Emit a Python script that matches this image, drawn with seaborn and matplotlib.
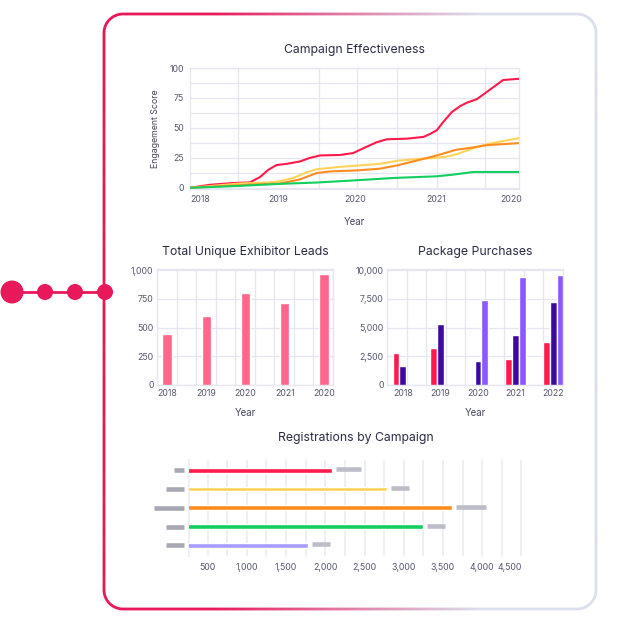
import numpy as np
import pandas as pd
import seaborn as sns
import matplotlib.pyplot as plt
import matplotlib.colors as mcolors
from matplotlib import transforms
from matplotlib.path import Path
from matplotlib.patches import Circle, PathPatch
from matplotlib.ticker import FuncFormatter

# --- Campaign Effectiveness (x = position along the time axis, % of width)
red_x = [0, 6, 13.2, 18.2, 21.3, 23.8, 26.3, 29.4, 33.4, 36.5, 39.5, 45.6,
         49.6, 52.7, 56.7, 59.8, 65.9, 71, 73, 75, 77, 79.5, 82, 84.1, 87.2,
         89.2, 92.2, 95.2, 100]
red_y = [0, 2.5, 4, 4.5, 9, 15, 19, 20, 22, 25, 27, 27.4,
         29, 33, 38, 40.5, 41, 42.5, 45, 48, 55, 63, 68, 71, 74,
         78, 84, 90, 91]
yellow_x = [0, 5.1, 15.2, 24, 27.4, 31.4, 35.5, 38.5, 45.6, 50.7, 57.8, 62.8,
            68.9, 75, 78, 81, 86.1, 90.2, 95.2, 100]
yellow_y = [0, 1.2, 3.6, 4.5, 5.5, 8.2, 13, 15.5, 17.5, 18.5, 20, 22.5,
            24, 25, 26, 28, 33, 36.4, 39, 41.5]
orange_x = [0, 15.2, 27.4, 33.4, 38.5, 42.6, 50.7, 57.8, 62.8, 68.9, 75,
            81, 86.1, 90.2, 100]
orange_y = [0, 2.2, 3.6, 7, 12.3, 13.7, 14.5, 16, 18.6, 22.7, 27, 31.8,
            33.7, 35.6, 37.3]
green_x = [0, 15.2, 27.4, 38.5, 50.7, 61.8, 75, 80, 86.1, 100]
green_y = [0, 1.6, 3.3, 4.4, 6.3, 8.2, 9.6, 11, 13.2, 13.2]
eff_tick_pos = [3, 26.9, 50.2, 74.8, 97.6]
eff_tick_labels = ['2018', '2019', '2020', '2021', '2020']

# --- Total Unique Exhibitor Leads
leads_labels = ['2018', '2019', '2020', '2021', '2020']
leads_values = [440, 603, 799, 710, 966]

# --- Package Purchases
pkg_years = ['2018', '2019', '2020', '2021', '2022']
pkg_a = [2760, 3190, np.nan, 2270, 3736]
pkg_b = [1667, 5345, 2098, 4370, 7242]
pkg_c = [np.nan, np.nan, 7443, 9427, 9600]

# --- Registrations by Campaign
camp_names = ['Campaign 1', 'Campaign 2', 'Campaign 3', 'Campaign 4', 'Campaign 5']
camp_regs = [2083, 2785, 3615, 3244, 1776]

# styling
PINK = '#e8185a'
LAV = '#dcdfee'
TITLE_C = '#2b2b45'
TICK_C = '#56566e'
GRID_C = '#e6e6f1'
line_colors = {'A': '#ff1a4b', 'B': '#ffd35a', 'C': '#ff8c1f', 'D': '#12cf5e'}
pkg_colors = ['#ff1a4b', '#3c0a9e', '#8b57ff']
camp_colors = ['#ff1a4b', '#ffd35a', '#ff8c1f', '#12cf5e', '#a99cff']
name_block_px = [10, 18, 30, 18, 18]
value_block_px = [25, 18, 30, 18, 18]

sns.set_theme(style='white')
plt.rcParams['font.family'] = ['Inter', 'DejaVu Sans']

fig = plt.figure(figsize=(6.2, 6.2), dpi=100)
W = H = 620.0


def px_rect(x0, y0, x1, y1):
    return [x0 / W, 1 - y1 / H, (x1 - x0) / W, (y1 - y0) / H]


# ---------- background frame + connector ----------
bg = fig.add_axes([0, 0, 1, 1], zorder=-5)
bg.set_xlim(0, W)
bg.set_ylim(H, 0)
bg.axis('off')


def rounded_rect(x0, y0, x1, y1, r):
    def arc(cx, cy, a0, a1):
        t = np.linspace(np.radians(a0), np.radians(a1), 40)
        return np.column_stack([cx + r * np.cos(t), cy + r * np.sin(t)])
    return np.vstack([arc(x1 - r, y0 + r, -90, 0), arc(x1 - r, y1 - r, 0, 90),
                      arc(x0 + r, y1 - r, 90, 180), arc(x0 + r, y0 + r, 180, 270)])


# frame drawn as a ring (outer minus inner rounded rect) filled with a gradient
fx0, fy0, fx1, fy1, fr, fw = 104, 14, 596, 609, 19, 2.8
outer = rounded_rect(fx0 - fw / 2, fy0 - fw / 2, fx1 + fw / 2, fy1 + fw / 2, fr + fw / 2)
inner = rounded_rect(fx0 + fw / 2, fy0 + fw / 2, fx1 - fw / 2, fy1 - fw / 2, fr - fw / 2)[::-1]
verts = np.vstack([outer, outer[:1], inner, inner[:1]])
codes = ([Path.MOVETO] + [Path.LINETO] * (len(outer) - 1) + [Path.CLOSEPOLY] +
         [Path.MOVETO] + [Path.LINETO] * (len(inner) - 1) + [Path.CLOSEPOLY])
ring = PathPatch(Path(verts, codes), facecolor='none', edgecolor='none',
                 transform=bg.transData)
bg.add_patch(ring)
xs = np.arange(0, int(W))
t = np.clip((xs - 210) / (480 - 210), 0, 1)[:, None]
grad = np.array(mcolors.to_rgb(PINK)) * (1 - t) + np.array(mcolors.to_rgb(LAV)) * t
img = bg.imshow(grad[None, :, :], extent=[0, W, H, 0], aspect='auto',
                interpolation='bilinear', zorder=1)
img.set_clip_path(ring)
bg.set_xlim(0, W)
bg.set_ylim(H, 0)

bg.plot([12, 105], [292, 292], color=PINK, lw=2.0, solid_capstyle='butt', zorder=2)
bg.add_patch(Circle((12, 292), 10.8, color=PINK, zorder=3))
for cx in [45, 75, 105]:
    bg.add_patch(Circle((cx, 292), 7.3, color=PINK, zorder=3))


def style_axes(ax, spines=True):
    ax.tick_params(axis='both', length=0, labelsize=6.3, colors=TICK_C)
    for s in ax.spines.values():
        s.set_visible(spines)
        s.set_color(GRID_C)
        s.set_linewidth(0.9)
    ax.set_facecolor('white')


comma = FuncFormatter(lambda v, p: f'{v:,.0f}')

# ---------- Campaign Effectiveness ----------
ax1 = fig.add_axes(px_rect(190, 68, 519, 189))
eff = pd.concat([
    pd.DataFrame({'x': red_x, 'y': red_y, 's': 'A'}),
    pd.DataFrame({'x': yellow_x, 'y': yellow_y, 's': 'B'}),
    pd.DataFrame({'x': orange_x, 'y': orange_y, 's': 'C'}),
    pd.DataFrame({'x': green_x, 'y': green_y, 's': 'D'}),
])
sns.lineplot(data=eff, x='x', y='y', hue='s', palette=line_colors, lw=1.5,
             legend=False, ax=ax1, zorder=3, solid_joinstyle='round')
ax1.set_xlim(0, 100)
ax1.set_ylim(-1, 100)
ax1.set_yticks([0, 25, 50, 75, 100])
ax1.set_yticks([12.5, 37.5, 62.5, 87.5], minor=True)
ax1.set_xticks(eff_tick_pos)
ax1.set_xticklabels(eff_tick_labels)
ax1.set_xticks([14.7, 26.9, 39.1, 50.7, 62.9, 75.1, 89.7], minor=True)
ax1.grid(False)
ax1.grid(axis='y', which='both', color=GRID_C, lw=0.9)
ax1.grid(axis='x', which='minor', color=GRID_C, lw=0.9)
style_axes(ax1)
ax1.tick_params(axis='x', pad=4.5)
ax1.tick_params(axis='y', pad=4.5)
ax1.tick_params(which='minor', length=0)
ax1.set_xlabel('Year', fontsize=7, color='#44445e', labelpad=9)
ax1.set_ylabel('Engagement Score', fontsize=6.3, color='#44445e', labelpad=7)
ax1.set_title('Campaign Effectiveness', fontsize=8.8, color=TITLE_C, pad=11)

# ---------- Total Unique Exhibitor Leads ----------
ax2 = fig.add_axes(px_rect(157, 269, 333, 385))
leads = pd.DataFrame({'slot': range(len(leads_values)), 'v': leads_values})
sns.barplot(data=leads, x='slot', y='v', color='#ff6689', saturation=1,
            width=0.24, ax=ax2, zorder=3)
x0, x1 = -0.26, 4.23
ax2.set_xlim(x0, x1)
ax2.set_ylim(0, 1010)
ax2.set_yticks([0, 250, 500, 750, 1000])
ax2.yaxis.set_major_formatter(comma)
ax2.set_xticks(range(len(leads_labels)))
ax2.set_xticklabels(leads_labels)
ax2.set_xticks(np.linspace(x0, x1, 10), minor=True)
ax2.grid(False)
ax2.grid(axis='y', color=GRID_C, lw=0.9)
ax2.grid(axis='x', which='minor', color=GRID_C, lw=0.9)
style_axes(ax2)
ax2.tick_params(which='minor', length=0)
ax2.tick_params(axis='x', pad=3)
ax2.tick_params(axis='y', pad=2.5)
ax2.set_xlabel('Year', fontsize=7, color='#44445e', labelpad=7)
ax2.set_ylabel('')
ax2.set_title('Total Unique Exhibitor Leads', fontsize=8.8, color=TITLE_C, pad=10)

# ---------- Package Purchases ----------
ax3 = fig.add_axes(px_rect(387, 269, 563, 385))
pkg = pd.DataFrame({
    'year': pkg_years * 3,
    'pkg': ['A'] * 5 + ['B'] * 5 + ['C'] * 5,
    'v': pkg_a + pkg_b + pkg_c,
})
sns.barplot(data=pkg, x='year', y='v', hue='pkg', palette=pkg_colors,
            saturation=1, width=0.54, legend=False, ax=ax3, zorder=3)
x0, x1 = -0.42, 4.26
ax3.set_xlim(x0, x1)
ax3.set_ylim(0, 10100)
ax3.set_yticks([0, 2500, 5000, 7500, 10000])
ax3.yaxis.set_major_formatter(comma)
ax3.set_xticks(np.linspace(x0, x1, 10), minor=True)
ax3.grid(False)
ax3.grid(axis='y', color=GRID_C, lw=0.9)
ax3.grid(axis='x', which='minor', color=GRID_C, lw=0.9)
style_axes(ax3)
ax3.tick_params(which='minor', length=0)
ax3.tick_params(axis='x', pad=3)
ax3.tick_params(axis='y', pad=2.5)
ax3.set_xlabel('Year', fontsize=7, color='#44445e', labelpad=7)
ax3.set_ylabel('')
ax3.set_title('Package Purchases', fontsize=8.8, color=TITLE_C, pad=10)

# ---------- Registrations by Campaign ----------
ax4 = fig.add_axes(px_rect(189, 460, 523, 556))
camp = pd.DataFrame({'name': camp_names, 'v': camp_regs})
sns.barplot(data=camp, x='v', y='name', hue='name', palette=camp_colors,
            saturation=1, width=0.25, legend=False, orient='h', ax=ax4, zorder=3)
ax4.set_xlim(262, 4520)
ax4.set_ylim(4.57, -0.55)
ax4.set_xticks([500, 1000, 1500, 2000, 2500, 3000, 3500, 4000, 4500])
ax4.xaxis.set_major_formatter(comma)
ax4.set_xticks(np.arange(750, 4500, 500), minor=True)
ax4.grid(False)
ax4.grid(axis='x', which='both', color='#eeeef5', lw=1.4)
style_axes(ax4, spines=False)
ax4.spines['left'].set_visible(True)
ax4.spines['left'].set_color('#eeeef5')
ax4.spines['left'].set_linewidth(1.4)
ax4.tick_params(which='minor', length=0)
ax4.tick_params(axis='x', pad=5)
ax4.set_yticks([])
ax4.set_xlabel('')
ax4.set_ylabel('')
ax4.get_xticklabels()[-1].set_ha('right')
ax4.set_title('Registrations by Campaign', fontsize=8.8, color=TITLE_C, pad=14)

# placeholder blocks for hidden category names and value labels
ax_w = 523 - 189
units_per_px = (4520 - 262) / ax_w
blend = transforms.blended_transform_factory(ax4.transAxes, ax4.transData)
for i, (v, nw, vw) in enumerate(zip(camp_regs, name_block_px, value_block_px)):
    ax4.plot([-(5 + nw) / ax_w, -5 / ax_w], [i, i], transform=blend,
             color='#a8a8b5', lw=3.3, solid_capstyle='butt', clip_on=False)
    start = v + 4 * units_per_px
    ax4.plot([start, start + vw * units_per_px], [i - 0.05, i - 0.05],
             color='#bdbdc9', lw=3.3, solid_capstyle='butt', clip_on=False)

fig.savefig('out.png', dpi=100, facecolor='white')
